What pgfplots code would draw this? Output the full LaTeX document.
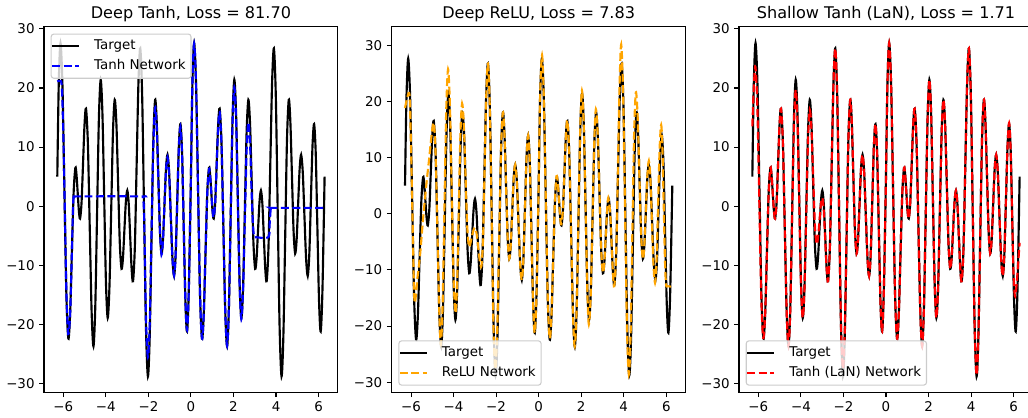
\documentclass[border=0pt]{standalone}
\usepackage{fontspec}
\setmainfont{DejaVu Sans}
\usepackage{pgfplots}
\usepackage{pgfplotstable}
\pgfplotsset{compat=1.18}
\definecolor{mplorange}{RGB}{255,165,0}
\definecolor{legendgray}{gray}{0.8}

% target, one period [0, 2pi]
\pgfplotstableread{
x y
0.000 5.0
0.067 20.5
0.150 27.6
0.243 20.3
0.335 2.6
0.428 -15.1
0.520 -22.4
0.603 -18.2
0.685 -7.9
0.768 2.3
0.850 6.5
0.905 5.2
0.960 2.2
1.015 -0.8
1.070 -2.1
1.140 0.6
1.210 7.2
1.280 13.8
1.350 16.5
1.438 10.6
1.525 -3.6
1.613 -17.8
1.700 -23.7
1.785 -17.1
1.870 -1.2
1.955 14.8
2.040 21.4
2.123 15.5
2.205 1.3
2.288 -13.0
2.370 -18.9
2.453 -13.5
2.535 -0.5
2.618 12.6
2.700 18.0
2.780 13.8
2.860 3.7
2.940 -6.4
3.020 -10.6
3.088 -8.7
3.155 -4.0
3.223 0.7
3.290 2.65
3.358 0.4
3.425 -5.0
3.493 -10.5
3.560 -12.7
3.645 -7.0
3.730 7.0
3.815 20.9
3.900 26.7
3.990 18.6
4.080 -1.1
4.170 -20.7
4.260 -28.8
4.345 -22.0
4.430 -5.4
4.515 11.2
4.600 18.0
4.675 14.2
4.750 5.0
4.825 -4.2
4.900 -8.0
4.970 -5.6
5.040 0.4
5.110 6.3
5.180 8.7
5.258 5.7
5.335 -1.6
5.413 -8.8
5.490 -11.8
5.565 -8.1
5.640 1.1
5.715 10.2
5.790 13.9
5.868 8.8
5.945 -3.7
6.023 -16.1
6.100 -21.2
6.183 -14.1
6.2832 5.0
}\tgt

\pgfplotstableread{
x y
-6.283 21.1
-6.170 21.2
-6.080 20.6
-6.020 15.0
-5.948 3.0
-5.855 -14.5
-5.770 -21.6
-5.680 -18.2
-5.598 -7.9
-5.540 0.3
-5.500 1.5
-5.440 1.65
-2.320 1.65
-2.260 1.4
-2.203 -1.5
-2.113 -19.0
-2.023 -25.5
-1.938 -19.8
-1.853 -4.4
-1.768 10.2
-1.683 16.7
-1.608 13.2
-1.533 4.4
-1.458 -4.0
-1.383 -8.2
-1.313 -5.6
-1.243 0.3
-1.173 6.0
-1.103 8.3
-1.025 5.4
-0.948 -1.7
-0.870 -8.7
-0.793 -11.7
-0.718 -8.1
-0.643 0.9
-0.568 9.8
-0.493 13.4
-0.415 8.5
-0.338 -3.7
-0.260 -15.9
-0.183 -21.0
-0.100 -14.0
0.000 5.0
0.067 20.5
0.150 27.5
0.243 20.3
0.335 2.6
0.428 -15.1
0.520 -22.4
0.603 -18.2
0.685 -7.9
0.768 2.2
0.850 6.3
0.905 5.0
0.960 2.1
1.015 -0.7
1.070 -1.9
1.140 0.6
1.210 6.9
1.280 13.3
1.350 15.9
1.438 10.2
1.525 -3.7
1.613 -17.7
1.700 -23.6
1.785 -17.1
1.870 -1.6
1.955 13.9
2.040 20.1
2.123 14.6
2.205 0.6
2.288 -13.3
2.370 -19.1
2.453 -14.0
2.535 -2.4
2.618 9.5
2.700 14.2
2.780 10.5
2.860 1.5
2.930 -4.0
2.990 -5.2
3.060 -5.25
3.640 -5.25
3.700 -3.0
3.750 -0.5
3.800 -0.28
3.870 -0.28
6.283 -0.28
}\tanhnet

\pgfplotstableread{
x y
-6.283 18.8
-6.200 20.3
-6.090 21.5
-6.040 18.0
-5.948 2.6
-5.870 -12.0
-5.820 -15.9
-5.700 -11.5
-5.580 -7.5
-5.470 -2.5
-5.350 2.5
-5.250 6.3
-5.150 9.7
-5.040 13.8
-4.933 16.2
-4.845 10.6
-4.758 -3.6
-4.670 -17.6
-4.600 -23.3
-4.515 -16.2
-4.430 1.2
-4.345 18.5
-4.260 25.7
-4.173 19.4
-4.085 4.0
-3.998 -11.4
-3.910 -17.7
-3.833 -12.3
-3.755 1.0
-3.678 14.2
-3.600 19.6
-3.520 15.9
-3.440 6.9
-3.360 -2.1
-3.280 -5.8
-3.210 -5.3
-3.140 -4.1
-3.070 -3.0
-3.000 -2.5
-2.920 -3.5
-2.845 -5.9
-2.770 -8.3
-2.690 -9.3
-2.610 -4.0
-2.537 8.7
-2.460 21.4
-2.383 26.7
-2.297 18.8
-2.210 -0.5
-2.126 -19.8
-2.040 -27.7
-1.950 -21.0
-1.860 -4.9
-1.770 11.3
-1.683 18.0
-1.608 14.2
-1.533 5.0
-1.458 -4.2
-1.383 -8.0
-1.313 -5.6
-1.243 0.4
-1.173 6.3
-1.103 8.7
-1.025 5.7
-0.948 -1.6
-0.870 -8.8
-0.793 -11.8
-0.718 -8.1
-0.643 1.1
-0.568 10.2
-0.493 13.9
-0.415 8.8
-0.338 -3.7
-0.260 -16.1
-0.183 -21.2
-0.100 -14.1
0.000 5.0
0.067 20.8
0.160 28.2
0.243 20.5
0.335 2.6
0.428 -15.1
0.520 -22.2
0.603 -18.0
0.685 -7.8
0.768 2.4
0.840 6.7
0.905 5.2
0.960 2.2
1.015 -0.8
1.065 -1.9
1.140 0.7
1.210 7.2
1.280 13.8
1.350 16.6
1.438 10.6
1.525 -3.6
1.613 -17.8
1.695 -23.6
1.785 -16.9
1.870 -0.9
1.955 15.2
2.035 21.9
2.123 15.6
2.205 1.0
2.288 -13.6
2.360 -19.7
2.453 -13.8
2.535 -0.3
2.618 13.0
2.690 18.6
2.780 13.8
2.860 3.7
2.940 -6.4
3.020 -10.5
3.088 -8.6
3.155 -3.9
3.223 0.8
3.270 2.8
3.358 0.4
3.425 -5.0
3.493 -10.6
3.555 -12.9
3.645 -6.8
3.725 8.0
3.805 23.0
3.880 30.1
3.970 21.5
4.060 0.8
4.150 -20.0
4.240 -28.6
4.323 -21.3
4.405 -3.5
4.488 14.3
4.570 21.6
4.653 17.3
4.735 6.8
4.818 -3.8
4.900 -8.1
4.970 -5.5
5.040 0.7
5.110 6.8
5.180 9.4
5.253 6.2
5.325 -1.5
5.398 -9.1
5.470 -12.3
5.543 -8.2
5.615 1.8
5.688 11.7
5.760 15.8
5.820 11.5
5.880 1.5
5.940 -8.5
5.990 -12.6
6.060 -12.9
6.283 -13.0
}\relunet

\pgfplotstableread{
x y
-6.283 13.5
-6.216 20.0
-6.140 23.6
-6.048 16.9
-5.955 0.7
-5.863 -15.5
-5.770 -22.3
-5.680 -18.2
-5.598 -7.9
-5.515 2.3
-5.433 6.5
-5.378 5.2
-5.323 2.2
-5.268 -0.8
-5.213 -2.1
-5.143 0.6
-5.073 7.2
-5.003 13.8
-4.933 16.5
-4.845 10.6
-4.758 -3.6
-4.670 -17.8
-4.583 -23.7
-4.498 -17.3
-4.413 -2.0
-4.328 13.3
-4.243 19.7
-4.160 14.2
-4.078 0.4
-3.995 -13.4
-3.913 -18.9
-3.830 -13.8
-3.748 -1.3
-3.665 11.2
-3.583 16.3
-3.503 13.0
-3.423 5.0
-3.343 -3.1
-3.263 -6.4
-3.195 -5.3
-3.128 -2.5
-3.060 0.3
-2.993 1.4
-2.925 -0.7
-2.858 -5.6
-2.790 -10.6
-2.723 -12.7
-2.638 -7.0
-2.553 7.0
-2.468 20.9
-2.383 26.7
-2.293 18.6
-2.203 -1.1
-2.113 -20.3
-2.023 -27.5
-1.938 -21.0
-1.853 -5.2
-1.768 11.2
-1.683 18.0
-1.608 14.2
-1.533 5.0
-1.458 -4.2
-1.383 -8.0
-1.313 -5.6
-1.243 0.4
-1.173 6.3
-1.103 8.7
-1.025 5.7
-0.948 -1.6
-0.870 -8.8
-0.793 -11.8
-0.718 -8.1
-0.643 1.1
-0.568 10.2
-0.493 13.9
-0.415 8.8
-0.338 -3.7
-0.260 -16.1
-0.183 -21.2
-0.100 -14.1
0.000 5.0
0.067 20.5
0.150 27.6
0.243 20.3
0.335 2.6
0.428 -15.1
0.520 -22.4
0.603 -18.2
0.685 -7.9
0.768 2.3
0.850 6.5
0.905 5.2
0.960 2.2
1.015 -0.8
1.070 -2.1
1.140 0.6
1.210 7.2
1.280 13.8
1.350 16.5
1.438 10.6
1.525 -3.6
1.613 -17.8
1.700 -23.7
1.785 -17.1
1.870 -1.2
1.955 14.8
2.040 21.4
2.123 15.5
2.205 1.3
2.288 -13.0
2.370 -18.9
2.453 -13.5
2.535 -0.5
2.618 12.6
2.700 18.0
2.780 13.8
2.860 3.7
2.940 -6.4
3.020 -10.6
3.088 -8.7
3.155 -4.0
3.223 0.7
3.290 2.65
3.358 0.4
3.425 -5.0
3.493 -10.5
3.560 -12.7
3.645 -7.0
3.730 7.0
3.815 20.9
3.900 26.7
3.990 18.6
4.080 -1.1
4.170 -20.7
4.260 -28.6
4.345 -22.0
4.430 -5.4
4.515 11.2
4.600 18.0
4.675 14.2
4.750 5.0
4.825 -4.2
4.900 -8.0
4.970 -5.6
5.040 0.4
5.110 6.3
5.180 8.7
5.258 5.7
5.335 -1.6
5.413 -8.8
5.490 -11.8
5.565 -8.1
5.640 1.1
5.715 10.2
5.790 14.1
5.858 9.8
5.925 -0.6
5.993 -10.9
6.060 -15.2
6.120 -14.0
6.180 -11.5
6.240 -8.3
6.283 -6.2
}\lannet

\pgfplotsset{
  panel/.style={
    scale only axis, width=219.3pt, height=272.7pt,
    anchor=south west,
    xmin=-6.91, xmax=6.91,
    axis line style={line width=0.8pt, black},
    tick align=outside, tick pos=left,
    major tick length=3.5pt,
    every tick/.style={black, line width=0.8pt},
    xtick={-6,-4,-2,0,2,4,6},
    xticklabels={−6,−4,−2,0,2,4,6},
    ytick={-30,-20,-10,0,10,20,30},
    yticklabels={−30,−20,−10,0,10,20,30},
    tick label style={font=\fontsize{10}{12}\selectfont},
    title style={font=\fontsize{12}{14}\selectfont, at={(0.5,1)}, anchor=base, yshift=0pt},
    legend style={draw=legendgray, line width=0.8pt, rounded corners=2pt,
      fill=white, fill opacity=0.8, text opacity=1, draw opacity=1,
      font=\fontsize{10}{12}\selectfont,
      inner xsep=0pt, inner ysep=4pt, row sep=5pt,
      nodes={inner xsep=4pt, inner ysep=0pt, text height=7.5pt, text depth=2.5pt},
      /tikz/every odd column/.append style={column sep=6.5pt}},
    legend cell align=left,
    legend image code/.code={\draw[#1] (0pt,0pt) -- (20pt,0pt);},
  },
  tgt/.style={black, line width=1.6pt, smooth},
  net/.style={line width=1.6pt, dash pattern=on 5.9pt off 2.6pt, smooth},
}

\begin{document}
\begin{tikzpicture}
\useasboundingbox (0,0) rectangle (766.9pt,311.1pt);

\begin{axis}[panel, at={(32.8pt,18.4pt)}, ymin=-31.5, ymax=30.35,
  title={Deep Tanh, Loss = 81.70},
  legend style={at={(0,1)}, anchor=north west, xshift=5pt, yshift=-5pt}]
\addplot[tgt] table[x expr=\thisrow{x}-6.2832, y=y] {\tgt};
\addplot[tgt, forget plot] table[x=x, y=y] {\tgt};
\addplot[net, blue] table[x=x, y=y] {\tanhnet};
\legend{Target, Tanh Network}
\end{axis}

\begin{axis}[panel, at={(292.2pt,18.4pt)}, ymin=-31.8, ymax=33.26,
  title={Deep ReLU, Loss = 7.83},
  legend style={at={(0,0)}, anchor=south west, xshift=5pt, yshift=5pt}]
\addplot[tgt] table[x expr=\thisrow{x}-6.2832, y=y] {\tgt};
\addplot[tgt, forget plot] table[x=x, y=y] {\tgt};
\addplot[net, mplorange] table[x=x, y=y] {\relunet};
\legend{Target, ReLU Network}
\end{axis}

\begin{axis}[panel, at={(551.3pt,18.4pt)}, ymin=-31.5, ymax=30.35,
  title={Shallow Tanh (LaN), Loss = 1.71},
  legend style={at={(0,0)}, anchor=south west, xshift=5pt, yshift=5pt}]
\addplot[tgt] table[x expr=\thisrow{x}-6.2832, y=y] {\tgt};
\addplot[tgt, forget plot] table[x=x, y=y] {\tgt};
\addplot[net, red] table[x=x, y=y] {\lannet};
\legend{Target, Tanh (LaN) Network}
\end{axis}
\end{tikzpicture}
\end{document}
